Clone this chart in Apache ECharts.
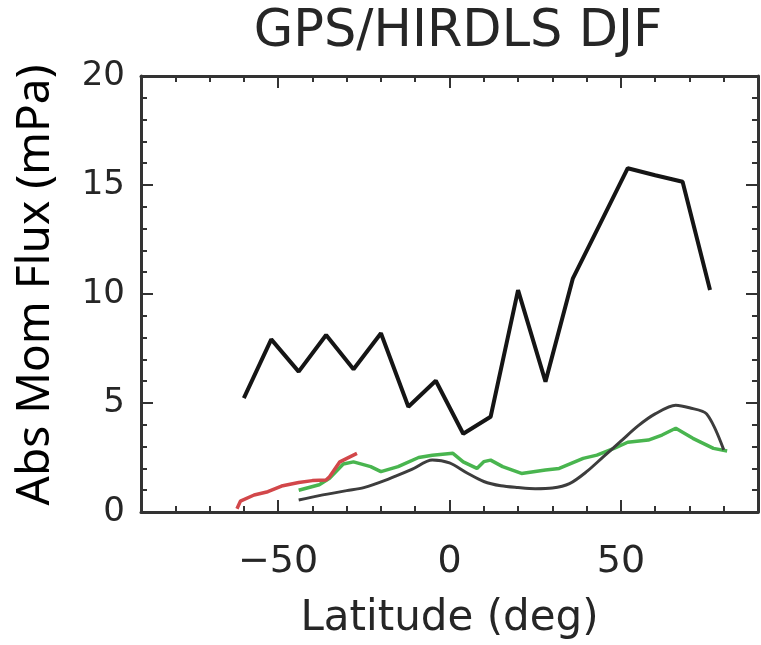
<!DOCTYPE html>
<html>
<head>
<meta charset="utf-8">
<script src="https://cdn.jsdelivr.net/npm/echarts@6/dist/echarts.min.js"></script>
<style>html,body{margin:0;padding:0;background:#fff}#c{width:761px;height:645px}</style>
</head>
<body>
<div id="c"></div>
<script>
// Upper black line (GPS)
var gpsLat = [-60, -52, -44, -36, -28, -20, -12, -4, 4, 12, 20, 28, 36, 44, 52, 60, 68, 76];
var gpsVal = [5.22, 7.92, 6.44, 8.12, 6.55, 8.20, 4.83, 6.02, 3.59, 4.37, 10.18, 5.98, 10.72, 13.24, 15.77, 15.45, 15.15, 10.18];
// Lower black line
var darkLat = [-44, -38, -30, -25, -18, -11, -5, 0, 5, 10, 15, 20, 25, 30, 35, 40, 45, 50, 55, 60, 66, 70, 75, 80];
var darkVal = [0.55, 0.75, 0.98, 1.12, 1.50, 1.95, 2.38, 2.25, 1.80, 1.40, 1.20, 1.12, 1.07, 1.10, 1.30, 1.85, 2.55, 3.25, 3.95, 4.50, 4.90, 4.78, 4.50, 2.85];
// Green line
var greenLat = [-44, -38, -35, -31, -28, -23, -20, -15, -9, -5, 1, 4, 8, 10, 12, 15.5, 21, 28, 32, 39, 43, 48, 52, 58, 62, 66, 71, 77, 81];
var greenVal = [1.0, 1.25, 1.55, 2.2, 2.3, 2.08, 1.85, 2.08, 2.5, 2.6, 2.69, 2.3, 2.0, 2.31, 2.38, 2.08, 1.77, 1.93, 2.0, 2.46, 2.61, 2.92, 3.2, 3.3, 3.53, 3.84, 3.38, 2.92, 2.8];
// Red line
var redLat = [-62, -61, -57, -53, -49, -44, -40, -36, -35, -32, -27];
var redVal = [0.15, 0.5, 0.78, 0.93, 1.19, 1.35, 1.44, 1.47, 1.62, 2.3, 2.69];
var xLabels = [-50, 0, 50];
var yLabels = [0, 5, 10, 15, 20];

function pairs(a, b) { return a.map(function (x, i) { return [x, b[i]]; }); }

var axisColor = '#333';
var hersh = 'DejaVu Sans';

var chart = echarts.init(document.getElementById('c'), null, {renderer: 'canvas'});
var xBase = {
  type: 'value', min: -90, max: 90, interval: 10,
  splitLine: {show: false}
};
chart.setOption({
  animation: false,
  backgroundColor: '#fff',
  title: {
    text: 'GPS/HIRDLS DJF',
    left: 453, top: 2, textAlign: 'center',
    textStyle: {fontFamily: hersh, fontWeight: 'normal', fontSize: 51, color: '#262626'}
  },
  grid: {left: 141, right: 2, top: 76, bottom: 133},
  xAxis: [
    Object.assign({}, xBase, {
      position: 'bottom',
      axisLine: {show: true, onZero: false, lineStyle: {color: axisColor, width: 3}},
      axisTick: {show: true, inside: true, length: 6, lineStyle: {color: axisColor, width: 2}},
      axisLabel: {
        show: true, margin: 31, fontFamily: hersh, fontSize: 38, color: '#262626',
        formatter: function (v) { return xLabels.indexOf(v) >= 0 ? String(v).replace('-', '\u2212') : ''; }
      },
      name: 'Latitude (deg)', nameLocation: 'middle', nameGap: 86,
      nameTextStyle: {fontFamily: hersh, fontSize: 42, color: '#262626'}
    }),
    Object.assign({}, xBase, {
      position: 'bottom',
      axisLine: {show: false, onZero: false},
      axisTick: {show: true, inside: true, length: 12, customValues: xLabels, lineStyle: {color: axisColor, width: 2}},
      axisLabel: {show: false}
    }),
    Object.assign({}, xBase, {
      position: 'top',
      axisLine: {show: true, onZero: false, lineStyle: {color: axisColor, width: 3}},
      axisTick: {show: true, inside: true, length: 6, lineStyle: {color: axisColor, width: 2}},
      axisLabel: {show: false}
    }),
    Object.assign({}, xBase, {
      position: 'top',
      axisLine: {show: false, onZero: false},
      axisTick: {show: true, inside: true, length: 12, customValues: xLabels, lineStyle: {color: axisColor, width: 2}},
      axisLabel: {show: false}
    })
  ],
  yAxis: [
    {
      type: 'value', min: 0, max: 20, interval: 5, position: 'left',
      axisLine: {show: true, onZero: false, lineStyle: {color: axisColor, width: 3}},
      axisTick: {show: true, inside: true, length: 12, lineStyle: {color: axisColor, width: 2}},
      minorTick: {show: true, splitNumber: 5, length: 6, lineStyle: {color: axisColor, width: 2}},
      splitLine: {show: false},
      axisLabel: {show: true, margin: 16, fontFamily: hersh, fontSize: 34, color: '#262626',
        formatter: function (v) { return yLabels.indexOf(v) >= 0 ? String(v) : ''; }},
      name: 'Abs Mom Flux (mPa)', nameLocation: 'middle', nameGap: 82,
      nameTextStyle: {fontFamily: 'Noto Sans', fontSize: 46, color: '#000', padding: [0, 0, 0, 18]}
    },
    {
      type: 'value', min: 0, max: 20, interval: 5, position: 'right',
      axisLine: {show: true, onZero: false, lineStyle: {color: axisColor, width: 3}},
      axisTick: {show: true, inside: true, length: 12, lineStyle: {color: axisColor, width: 2}},
      minorTick: {show: true, splitNumber: 5, length: 6, lineStyle: {color: axisColor, width: 2}},
      splitLine: {show: false},
      axisLabel: {show: false}
    }
  ],
  series: [
    {type: 'line', name: 'GPS', data: pairs(gpsLat, gpsVal), symbol: 'none',
      lineStyle: {color: '#151515', width: 4}, z: 5},
    {type: 'line', name: 'HIRDLS', data: pairs(darkLat, darkVal), symbol: 'none', smooth: 0.3,
      lineStyle: {color: '#3d3d3d', width: 3}, z: 4},
    {type: 'line', name: 'Green', data: pairs(greenLat, greenVal), symbol: 'none',
      lineStyle: {color: '#49b54f', width: 3.5}, z: 3},
    {type: 'line', name: 'Red', data: pairs(redLat, redVal), symbol: 'none',
      lineStyle: {color: '#d2474a', width: 3.5}, z: 6}
  ]
});
</script>
</body>
</html>
